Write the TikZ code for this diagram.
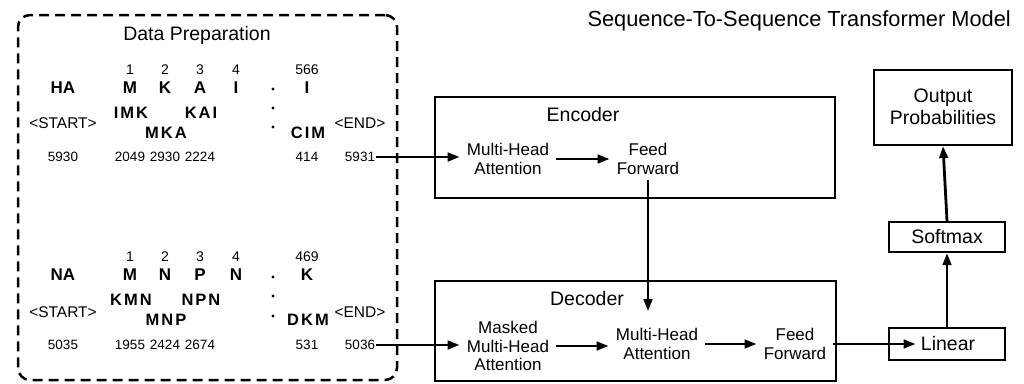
\documentclass[tikz,border=0pt]{standalone}
\usepackage{fontspec}
\setmainfont{Liberation Sans}
\usetikzlibrary{arrows.meta,calc}
\begin{document}
\begin{tikzpicture}[x=1pt,y=-1pt,
  box/.style={draw, line width=2.2pt, inner sep=0pt},
  boxlbl/.style={font=\fontsize{19.5}{22}\selectfont, align=center, inner sep=0pt},
  inlbl/.style={font=\fontsize{17}{18.8}\selectfont, align=center, inner xsep=7pt, inner ysep=5pt},
  arr/.style={-{Triangle[length=12pt,width=8.5pt]}, line width=2.8pt},
  idx/.style={font=\fontsize{14}{15}\selectfont, inner sep=0pt},
  num/.style={font=\fontsize{13.5}{15}\selectfont, inner sep=1pt},
  let/.style={font=\fontsize{17}{18}\selectfont\bfseries, inner sep=0pt},
  tri/.style={font=\fontsize{16.5}{18}\selectfont\bfseries\addfontfeature{LetterSpace=12}, inner sep=0pt},
  tag/.style={font=\fontsize{15.5}{17}\selectfont, inner sep=0pt},
  dotnode/.style={circle, fill, inner sep=0pt, minimum size=3.2pt}
]
\useasboundingbox (0,0) rectangle (1024,383);

% title
\node[font=\fontsize{21.8}{24}\selectfont, anchor=east, inner sep=0pt] (title) at (1011,21) {Sequence-To-Sequence Transformer Model};

% data preparation frame
\node[draw, line width=2.5pt, dash pattern=on 10pt off 6pt, rounded corners=12pt,
      minimum width=379pt, minimum height=365pt, inner sep=0pt] (prep) at (207.5,197.5) {};
\node[boxlbl] (preptitle) at (197,35) {Data Preparation};

% ---- top sequence
\foreach \t/\x/\n in {1/130/ta1, 2/165/ta2, 3/200/ta3, 4/236/ta4, 566/307/ta5}
  \node[idx] (\n) at (\x,70) {\t};
\foreach \t/\x/\n in {HA/63/tb0, M/130/tb1, K/165/tb2, A/200/tb3, I/236/tb4, I/307/tb5}
  \node[let] (\n) at (\x,88) {\t};
\foreach \y/\n in {89/td1, 108/td2, 127/td3}
  \node[dotnode] (\n) at (273,\y) {};
\node[tri] (tc1) at (131,113) {IMK};
\node[tri] (tc3) at (201,113) {KAI};
\node[tri] (tc2) at (166,133) {MKA};
\node[tri] (tc5) at (308,133) {CIM};
\node[tag] (tstart) at (63,123) {<START>};
\node[tag] (tend) at (360,123) {<END>};
\foreach \t/\x/\n in {5930/63/tn0, 2049/130/tn1, 2930/165/tn2, 2224/200/tn3, 414/307/tn5, 5931/360/tn6}
  \node[num] (\n) at (\x,157) {\t};

% ---- bottom sequence
\foreach \t/\x/\n in {1/130/ba1, 2/165/ba2, 3/200/ba3, 4/236/ba4, 469/307/ba5}
  \node[idx] (\n) at (\x,257) {\t};
\foreach \t/\x/\n in {NA/63/bb0, M/130/bb1, N/165/bb2, P/200/bb3, N/236/bb4, K/307/bb5}
  \node[let] (\n) at (\x,275) {\t};
\foreach \y/\n in {277/bd1, 296/bd2, 316/bd3}
  \node[dotnode] (\n) at (273,\y) {};
\node[tri] (bc1) at (131,300) {KMN};
\node[tri] (bc3) at (201,300) {NPN};
\node[tri] (bc2) at (166,320) {MNP};
\node[tri] (bc5) at (308,320) {DKM};
\node[tag] (bstart) at (63,312) {<START>};
\node[tag] (bend) at (360,312) {<END>};
\foreach \t/\x/\n in {5035/63/bn0, 1955/130/bn1, 2424/165/bn2, 2674/200/bn3, 531/307/bn5, 5036/360/bn6}
  \node[num] (\n) at (\x,345) {\t};

% ---- encoder
\node[box, minimum width=400pt, minimum height=101pt] (enc) at (635,147.5) {};
\node[boxlbl] (enclbl) at (583,115) {Encoder};
\node[inlbl] (emha) at (508,159) {Multi-Head\\Attention};
\node[inlbl] (eff) at (648,159) {Feed\\Forward};

% ---- decoder
\node[box, minimum width=401pt, minimum height=100pt] (dec) at (635.5,331) {};
\node[boxlbl] (declbl) at (587,299) {Decoder};
\node[inlbl] (mmha) at (508,346) {Masked\\Multi-Head\\Attention};
\node[inlbl] (dmha) at (657,344) {Multi-Head\\Attention};
\node[inlbl] (dff) at (795,344) {Feed\\Forward};

% ---- output side
\node[box, minimum width=116pt, minimum height=32pt] (lin) at (947,344) {};
\node[boxlbl] (linlbl) at (948,344) {Linear};
\node[box, minimum width=116pt, minimum height=30pt] (soft) at (947,237) {};
\node[boxlbl] (softlbl) at (947,237) {Softmax};
\node[box, minimum width=138pt, minimum height=75pt] (outp) at (943,107.5) {};
\node[boxlbl] (outlbl) at (943,107) {Output\\Probabilities};

% ---- connectors
\draw[arr] (tn6.east) -- (tn6.east -| emha.west);
\draw[arr] (emha.east) -- (emha.east -| eff.west);
\draw[arr, shorten >=12pt] (eff.south) -- (eff.south |- dmha.north);
\draw[arr] (bn6.east) -- (bn6.east -| mmha.west);
\draw[arr] (mmha.east) -- (mmha.east -| dmha.west);
\draw[arr] (dmha.east) -- (dmha.east -| dff.west);
\draw[arr, shorten >=5pt] (dff.east) -- (linlbl.west);
\draw[arr] (lin.north) -- (soft.south);
\draw[arr] (soft.north) -- (outp.south);
\end{tikzpicture}
\end{document}
